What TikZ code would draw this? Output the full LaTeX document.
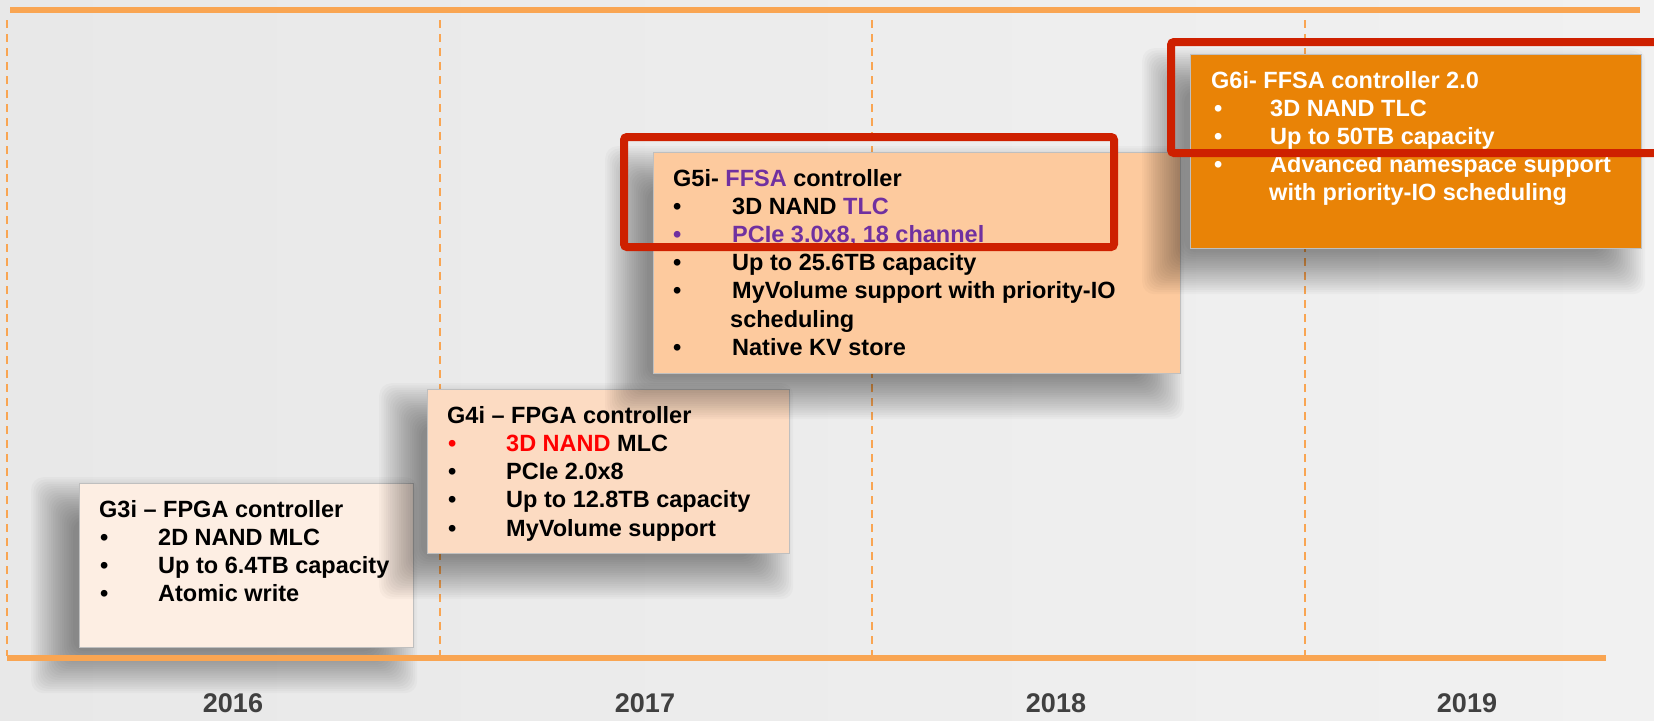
\documentclass[tikz,border=0pt]{standalone}
\usepackage{fontspec}
\setmainfont{Liberation Sans}
\definecolor{lineor}{HTML}{F9A552}
\definecolor{cthree}{HTML}{FDEEE3}
\definecolor{cfour}{HTML}{FCDBC2}
\definecolor{cfive}{HTML}{FDCA9E}
\definecolor{csix}{HTML}{E98306}
\definecolor{redbox}{HTML}{CE2000}
\definecolor{purp}{HTML}{7030A0}
\definecolor{yeargray}{HTML}{404040}
\definecolor{bgl}{HTML}{E8E8E8}
\definecolor{bgr}{HTML}{F1F1F1}
\newcommand{\myshadow}[1]{%
  \foreach \i in {0,...,19}{%
    \pgfmathsetmacro\ee{-16+2.2*\i}%
    \fill[black,opacity=0.022,rounded corners=12pt]
      ([shift={({(-22-\ee)*1pt},{(-20+\ee)*1pt})}]#1.north west) rectangle
      ([shift={({(-22+\ee)*1pt},{(-20-\ee)*1pt})}]#1.south east);
  }}
\newcommand{\bul}[2][black]{\makebox[#2][l]{\color{#1}\textbullet}}
\begin{document}
\begin{tikzpicture}[x=1pt,y=-1pt,
  box/.style={draw=black!25, line width=0.8pt, inner sep=0pt, anchor=north west},
  txt/.style={anchor=base west, inner sep=0pt, font=\fontsize{23.5}{28.2}\selectfont\bfseries},
  yr/.style={anchor=base, inner sep=0pt, text=yeargray, font=\fontsize{27}{32}\selectfont\bfseries},
  hl/.style={draw=redbox, line width=8pt, rounded corners=3pt, inner sep=0pt, anchor=center},
  dline/.style={draw=lineor, line width=2.6pt, dash pattern=on 8pt off 6pt},
  mainline/.style={draw=lineor, line width=6pt}]
\useasboundingbox (0,0) rectangle (1654,720);
\clip (0,0) rectangle (1654,720);
\shade[left color=bgl, right color=bgr] (0,0) rectangle (1654,720);

% timeline lines
\coordinate (tl) at (10,10);
\coordinate (tr) at (1640,10);
\coordinate (bl) at (7,658);
\coordinate (br) at (1606,658);
\foreach \x [count=\k] in {7,440,872,1305}{
  \coordinate (d\k t) at (\x,20);
  \coordinate (d\k b) at (\x,656);
}
\draw[mainline] (tl) -- (tr);
\foreach \k in {1,...,4}{ \draw[dline] (d\k t) -- (d\k b); }

% years
\node[yr] (y16) at (233,712) {2016};
\node[yr] (y17) at (645,712) {2017};
\node[yr] (y18) at (1056,712) {2018};
\node[yr] (y19) at (1467,712) {2019};

% shadow anchors (invisible helper nodes for the shadow geometry)
\path (79,483) node[inner sep=0pt, anchor=north west, minimum width=334pt, minimum height=164pt] (s3) {};
\path (427,389) node[inner sep=0pt, anchor=north west, minimum width=362pt, minimum height=164pt] (s4) {};
\path (653,152) node[inner sep=0pt, anchor=north west, minimum width=527pt, minimum height=221pt] (s5) {};
\path (1190,54) node[inner sep=0pt, anchor=north west, minimum width=451pt, minimum height=194pt] (s6) {};

% G3i
\myshadow{s3}
\node[box, fill=cthree, minimum width=334pt, minimum height=164pt] (g3) at (79,483) {};
\node[txt] (g3t) at (99,517) {G3i – FPGA controller};
\node[txt] (g3a) at (100,545.2) {\bul{58pt}2D NAND MLC};
\node[txt] (g3b) at (100,573.4) {\bul{58pt}Up to 6.4TB capacity};
\node[txt] (g3c) at (100,601.6) {\bul{58pt}Atomic write};

% G4i
\myshadow{s4}
\node[box, fill=cfour, minimum width=362pt, minimum height=164pt] (g4) at (427,389) {};
\node[txt] (g4t) at (447,423.3) {G4i – FPGA controller};
\node[txt] (g4a) at (448,451.5) {\bul[red]{58pt}{\color{red}3D NAND} MLC};
\node[txt] (g4b) at (448,479.7) {\bul{58pt}PCIe 2.0x8};
\node[txt] (g4c) at (448,507.9) {\bul{58pt}Up to 12.8TB capacity};
\node[txt] (g4d) at (448,536.1) {\bul{58pt}MyVolume support};

% G5i
\myshadow{s5}
\node[box, fill=cfive, minimum width=527pt, minimum height=221pt] (g5) at (653,152) {};
\node[txt] (g5t) at (673,186) {G5i- {\color{purp}FFSA} controller};
\node[txt] (g5a) at (673,214.2) {\bul{59pt}3D NAND {\color{purp}TLC}};
\node[txt, text=purp] (g5b) at (673,242.4) {\bul[purp]{59pt}PCIe 3.0x8, 18 channel};
\node[txt] (g5c) at (673,270.6) {\bul{59pt}Up to 25.6TB capacity};
\node[txt] (g5d) at (673,298.8) {\bul{59pt}MyVolume support with priority-IO};
\node[txt] (g5e) at (730,327) {scheduling};
\node[txt] (g5f) at (673,355.2) {\bul{59pt}Native KV store};

% G6i
\myshadow{s6}
\node[box, fill=csix, minimum width=451pt, minimum height=194pt] (g6) at (1190,54) {};
\node[txt, text=white] (g6t) at (1211,88) {G6i- FFSA controller 2.0};
\node[txt, text=white] (g6a) at (1214,116.2) {\bul[white]{56pt}3D NAND TLC};
\node[txt, text=white] (g6b) at (1214,144.4) {\bul[white]{56pt}Up to 50TB capacity};
\node[txt, text=white] (g6c) at (1214,172.6) {\bul[white]{56pt}Advanced namespace support};
\node[txt, text=white] (g6d) at (1269,200.8) {with priority-IO scheduling};

% bottom timeline line drawn above the shadows
\draw[mainline] (bl) -- (br);

% red highlight frames
\node[hl, minimum width=490pt, minimum height=110pt] (r1) at (869,192) {};
\node[hl, minimum width=529pt, minimum height=111pt] (r2) at (1435.5,97.5) {};
\end{tikzpicture}
\end{document}
